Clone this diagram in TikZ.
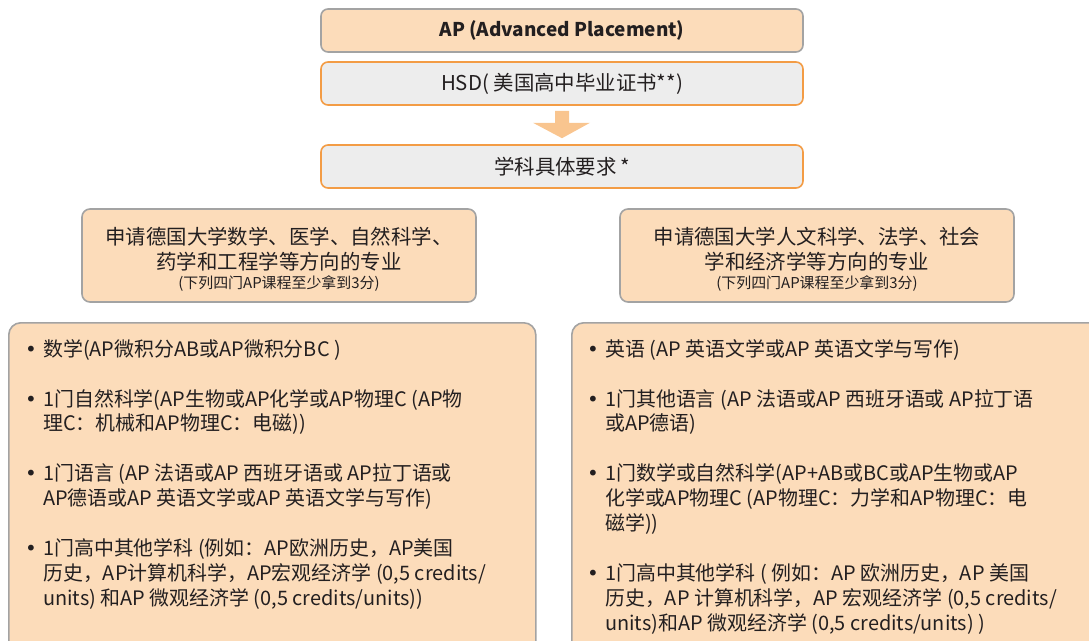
\documentclass[tikz,border=0pt]{standalone}
\usepackage{fontspec}
\setmainfont{Noto Sans CJK SC}
\newfontfamily\dotfont{DejaVu Sans}
\usetikzlibrary{calc}

\definecolor{peach}{HTML}{FCDCBA}
\definecolor{boxgray}{HTML}{EDEDED}
\definecolor{rimgray}{HTML}{A3A3A3}
\definecolor{rimorange}{HTML}{F39C45}
\definecolor{arrowpeach}{HTML}{F9C58F}
\definecolor{textgray}{HTML}{231F20}

\newcommand\dotitem{\makebox[18bp][l]{\dotfont •}}
\newcommand\dotgap{\hspace*{18bp}}

\tikzset{
	titlebox/.style={draw=rimgray, fill=peach, line width=1.6pt, rounded corners=7pt,
		minimum width=482bp, minimum height=43bp, inner sep=0pt,
		font=\fontsize{19}{22}\selectfont\bfseries},
	stagebox/.style={draw=rimorange, fill=boxgray, line width=1.6pt, rounded corners=7pt,
		minimum width=482bp, minimum height=43bp, inner sep=0pt,
		font=\fontsize{20.5}{22}\selectfont},
	groupbox/.style={draw=rimgray, fill=peach, line width=1.6pt, rounded corners=8pt,
		minimum width=394bp, minimum height=93bp, inner sep=0pt},
	grouptext/.style={align=center, inner sep=0pt, font=\fontsize{20.5}{25}\selectfont},
	listbox/.style={draw=rimgray, fill=peach, line width=1.6pt, rounded corners=12pt,
		anchor=north west, inner sep=0pt, minimum height=360bp},
	listtext/.style={anchor=north west, align=left, inner sep=0pt,
		font=\fontsize{20}{25}\selectfont},
}

\begin{document}
\begin{tikzpicture}[x=1bp, y=-1bp, text=textgray]
	\useasboundingbox (0,0) rectangle (1089,641);
	\clip (0,0) rectangle (1089,641);

	\path
	(562, 30.5) coordinate (P1)
	(562, 83.5) coordinate (P2)
	(562,166.5) coordinate (P3)
	(279,255.5) coordinate (G1)
	(817,255.5) coordinate (G2)
	(  8,322) coordinate (L1)
	(571,322) coordinate (L2);

	\node[titlebox] (ap) at (P1) {AP (Advanced Placement)};
	\node[stagebox] (hsd) at (P2) {HSD( 美国高中毕业证书**)};
	\node[stagebox] (req) at (P3) {学科具体要求\,*};

	\fill[arrowpeach]
	($(hsd.south)+(-7,5)$) -- ++(14,0) -- ++(0,12) -- ++(21,0)
	-- ($(req.north)+(0,-6)$)
	-- ($(hsd.south)+(-29,17)$) -- ++(22,0) -- cycle;

	\node[groupbox] (sci) at (G1) {};
	\node[groupbox] (hum) at (G2) {};
	\node[grouptext] (scihead) at ($(sci.center)+(0,4)$) {申请德国大学数学、医学、自然科学、\\药学和工程学等方向的专业\\[-6bp]{\fontsize{15}{16}\selectfont (下列四门AP课程至少拿到3分)}};
	\node[grouptext] (humhead) at ($(hum.center)+(0,4)$) {申请德国大学人文科学、法学、社会\\学和经济学等方向的专业\\[-6bp]{\fontsize{15}{16}\selectfont (下列四门AP课程至少拿到3分)}};

	\node[listbox, minimum width=527bp] (scibox) at (L1) {};
	\node[listbox, minimum width=540bp] (humbox) at (L2) {};

	\node[listtext] (scilist) at ($(scibox.north west)+(17,17)$) {%
		\dotitem 数学(AP微积分AB或AP微积分BC )\\[25bp]
		\dotitem 1门自然科学(AP生物或AP化学或AP物理C (AP物\\
		\dotgap 理C：机械和AP物理C：电磁))\\[25bp]
		\dotitem 1门语言 (AP 法语或AP 西班牙语或 AP拉丁语或\\
		\dotgap AP德语或AP 英语文学或AP 英语文学与写作)\\[25bp]
		\dotitem 1门高中其他学科 (例如：AP欧洲历史，AP美国\\
		\dotgap 历史，AP计算机科学，AP宏观经济学 (0,5 credits/\\
		\dotgap units) 和AP 微观经济学 (0,5 credits/units))};

	\node[listtext] (humlist) at ($(humbox.north west)+(16,17)$) {%
		\dotitem 英语 (AP 英语文学或AP 英语文学与写作)\\[25bp]
		\dotitem 1门其他语言 (AP 法语或AP 西班牙语或 AP拉丁语\\
		\dotgap 或AP德语)\\[25bp]
		\dotitem 1门数学或自然科学(AP+AB或BC或AP生物或AP\\
		\dotgap 化学或AP物理C (AP物理C：力学和AP物理C：电\\
		\dotgap 磁学))\\[25bp]
		\dotitem 1门高中其他学科 ( 例如：AP 欧洲历史，AP 美国\\
		\dotgap 历史，AP 计算机科学，AP 宏观经济学 (0,5 credits/\\
		\dotgap units)和AP 微观经济学 (0,5 credits/units) )};
\end{tikzpicture}
\end{document}
